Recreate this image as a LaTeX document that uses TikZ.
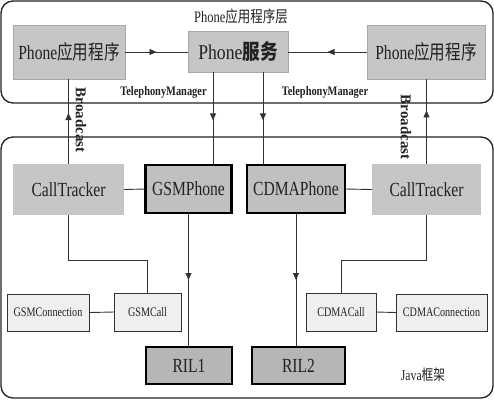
\documentclass[tikz,border=0pt]{standalone}
\usepackage{fontspec}
\usepackage{graphicx}
\setmainfont{Liberation Serif}
\newfontfamily\cjk{Noto Sans CJK SC}
\usetikzlibrary{arrows.meta,decorations.markings}
\newcommand\sqz[2][0.78]{\scalebox{#1}[1]{#2}}
\definecolor{boxgray}{HTML}{C6C6C6}
\definecolor{boxedge}{HTML}{A8A8A8}
\definecolor{darkgray2}{HTML}{C0C0C0}
\definecolor{rilgray}{HTML}{B6B6B6}
\definecolor{lightbox}{HTML}{EFEFEF}
\definecolor{ink}{HTML}{222222}
\definecolor{wire}{HTML}{333333}
\tikzset{
  lyr/.style={draw=ink, line width=1.3pt, rounded corners=12pt},
  appbox/.style={fill=boxgray, draw=boxedge, line width=0.6pt, inner sep=0pt, outer sep=0pt, text=ink,
                 font=\fontsize{20}{22}\selectfont},
  thickbox/.style={fill=darkgray2, draw=black, line width=2.4pt, inner sep=0pt, outer sep=0pt, text=ink,
                 font=\fontsize{20}{22}\selectfont},
  rilbox/.style={fill=rilgray, draw=black, line width=2.4pt, inner sep=0pt, outer sep=0pt, text=ink,
                 font=\fontsize{20}{22}\selectfont},
  smallbox/.style={fill=lightbox, draw=wire, line width=0.8pt, inner sep=0pt, outer sep=0pt, text=ink,
                 font=\fontsize{13}{15}\selectfont},
  wirestyle/.style={draw=wire, line width=0.9pt},
  midarrow/.style={postaction={decorate}, decoration={markings,
      mark=at position #1 with {\arrow{Triangle[length=7pt,width=6pt]}}}},
  lbl/.style={text=ink, inner sep=0pt, font=\bfseries\fontsize{13}{15}\selectfont},
  vlbl/.style={text=ink, inner sep=0pt, font=\bfseries\fontsize{15}{17}\selectfont, rotate=-90},
}
\begin{document}
\begin{tikzpicture}[x=1pt,y=-1pt]
\useasboundingbox (0,0) rectangle (494,400);
% layers
\draw[lyr] (1,1) rectangle (493,103);
\draw[lyr] (1,137) rectangle (493,398);
\node[text=ink, inner sep=0pt, font=\fontsize{16}{18}\selectfont] (title) at (241,16) {\sqz{Phone{\cjk 应用程序层}}};
% top boxes
\node[appbox, minimum width=112pt, minimum height=54pt] (appL) at (69,52) {\sqz{Phone{\cjk 应用程序}}};
\node[appbox, minimum width=100pt, minimum height=41pt, font=\fontsize{21}{23}\selectfont] (svc) at (238,51.5) {\sqz[0.84]{Phone{\cjk\bfseries 服务}}};
\node[appbox, minimum width=118pt, minimum height=54pt] (appR) at (426,52) {\sqz{Phone{\cjk 应用程序}}};
% middle row
\node[appbox, draw=none, minimum width=111pt, minimum height=51pt] (ctL) at (68.5,189.5) {\sqz{CallTracker}};
\node[thickbox, minimum width=86pt, minimum height=48pt] (gsm) at (188.5,189) {\sqz{GSMPhone}};
\node[thickbox, minimum width=98pt, minimum height=48pt] (cdma) at (296,189) {\sqz{CDMAPhone}};
\node[appbox, draw=none, minimum width=109pt, minimum height=51pt] (ctR) at (426.5,189.5) {\sqz{CallTracker}};
% small boxes
\node[smallbox, minimum width=82pt, minimum height=37pt] (gsmconn) at (48,312.5) {\sqz{GSMConnection}};
\node[smallbox, minimum width=67pt, minimum height=38pt] (gsmcall) at (147.5,312) {\sqz{GSMCall}};
\node[smallbox, minimum width=70pt, minimum height=38pt] (cdmacall) at (341,312) {\sqz{CDMACall}};
\node[smallbox, minimum width=91pt, minimum height=37pt] (cdmaconn) at (441.5,312.5) {\sqz{CDMAConnection}};
% RIL
\node[rilbox, minimum width=86pt, minimum height=37pt] (ril1) at (189,365.5) {\sqz{RIL1}};
\node[rilbox, minimum width=93pt, minimum height=37pt] (ril2) at (298.5,365.5) {\sqz{RIL2}};
% labels
\node[lbl] (tm1) at (163.5,92) {\sqz[0.8]{TelephonyManager}};
\node[lbl] (tm2) at (325,92) {\sqz[0.8]{TelephonyManager}};
\node[vlbl] (bc1) at (81,120) {Broadcast};
\node[vlbl] (bc2) at (406,127) {Broadcast};
\node[text=ink, inner sep=0pt, font=\fontsize{15}{17}\selectfont] (java) at (423,375) {\sqz{Java{\cjk 框架}}};
% connectors
\draw[wirestyle, midarrow=0.5] (appL.east) -- (svc.west |- appL.east);
\draw[wirestyle, midarrow=0.5] (appR.west) -- (svc.east |- appR.west);
\draw[wirestyle, midarrow=0.52] ([xshift=-25pt]svc.south) -- ([xshift=-25pt]svc.south |- gsm.north);
\draw[wirestyle, midarrow=0.52] ([xshift=25pt]svc.south) -- ([xshift=25pt]svc.south |- cdma.north);
\draw[wirestyle, midarrow=0.6] (ctL.north) -- (ctL.north |- appL.south);
\draw[wirestyle, midarrow=0.63] (ctR.north) -- (ctR.north |- appR.south);
\draw[wirestyle] (ctL.east) -- (gsm.west);
\draw[wirestyle] (cdma.east) -- (ctR.west);
\draw[wirestyle, midarrow=0.5] (gsm.south) -- (gsm.south |- ril1.north);
\draw[wirestyle, midarrow=0.5] (cdma.south) -- (cdma.south |- ril2.north);
\draw[wirestyle] (ctL.south) -- ++(0,45) -| (gsmcall.north);
\draw[wirestyle] (ctR.south) -- ++(0,45) -| (cdmacall.north);
\draw[wirestyle] (gsmconn.east) -- (gsmcall.west);
\draw[wirestyle] (cdmacall.east) -- (cdmaconn.west);
\end{tikzpicture}
\end{document}
